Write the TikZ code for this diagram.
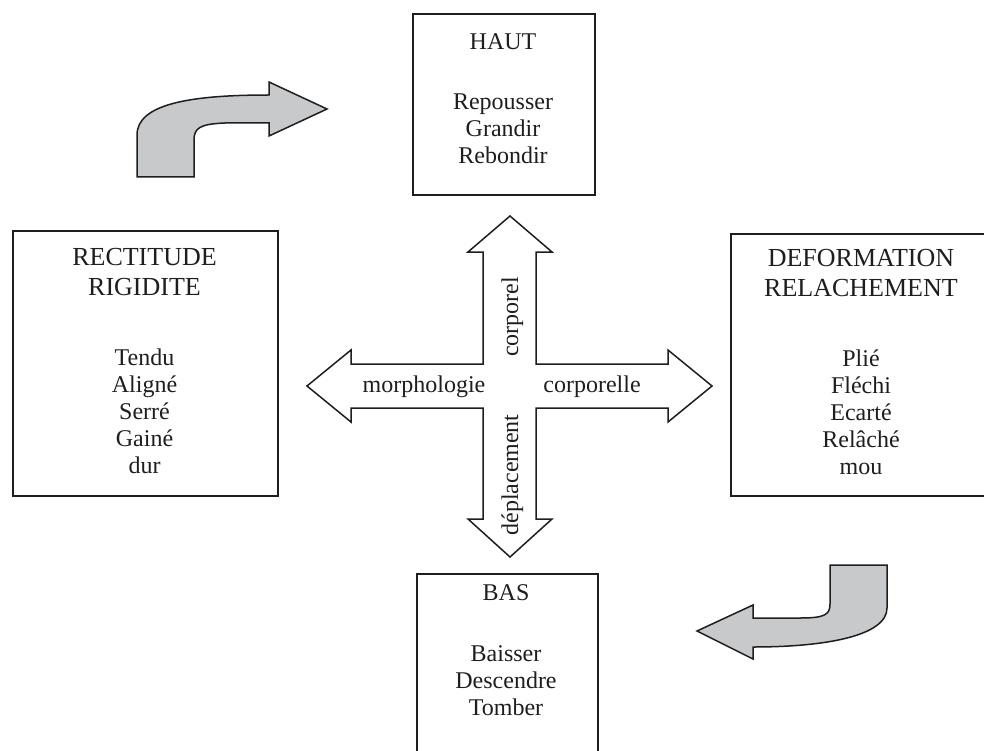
\documentclass[tikz,border=0pt]{standalone}
\usepackage{fontspec}
\setmainfont{Liberation Serif}
\definecolor{ink}{RGB}{30,30,30}
\definecolor{agray}{RGB}{200,201,203}
\begin{document}
\begin{tikzpicture}[x=1pt,y=-1pt,
  box/.style={draw=ink,line width=1.6pt,inner sep=0pt,anchor=north west},
  txt/.style={text=ink,inner sep=0pt,anchor=base,font=\fontsize{24}{27}\selectfont},
  ttl/.style={txt,font=\fontsize{26}{30}\selectfont},
  arrowshape/.style={draw=ink,line width=1.5pt,line join=miter},
  bentarrow/.style={draw=ink,fill=agray,line width=1.5pt,line join=miter},
]
\useasboundingbox (0,0) rectangle (984,751);
\clip (0,0) rectangle (984,751);
\fill[white] (0,0) rectangle (984,751);

% boxes
\node[box,minimum width=182pt,minimum height=181pt] (haut) at (412,13) {};
\node[box,minimum width=265pt,minimum height=265pt] (recti) at (12,230) {};
\node[box,minimum width=262pt,minimum height=262pt] (defo) at (730,233) {};
\node[box,minimum width=181pt,minimum height=190pt] (bas) at (416,573) {};

% HAUT text
\node[txt] (t-haut) at (503,50) {HAUT};
\node[txt] (t-rep) at (503,110) {Repousser};
\node[txt] (t-gra) at (503,137) {Grandir};
\node[txt] (t-reb) at (503,164) {Rebondir};

% left text
\node[ttl] (t-rec) at (144.5,265) {RECTITUDE};
\node[ttl] (t-rig) at (144.5,295) {RIGIDITE};
\node[txt] (t-ten) at (144.5,365) {Tendu};
\node[txt] (t-ali) at (144.5,392) {Aligné};
\node[txt] (t-ser) at (144.5,419) {Serré};
\node[txt] (t-gai) at (144.5,446) {Gainé};
\node[txt] (t-dur) at (144.5,473) {dur};

% right text
\node[ttl] (t-def) at (861,266) {DEFORMATION};
\node[ttl] (t-rel) at (861,296) {RELACHEMENT};
\node[txt] (t-pli) at (861,366) {Plié};
\node[txt] (t-fle) at (861,393) {Fléchi};
\node[txt] (t-eca) at (861,420) {Ecarté};
\node[txt] (t-rlc) at (861,447) {Relâché};
\node[txt] (t-mou) at (861,474) {mou};

% BAS text
\node[txt] (t-bas) at (506,600) {BAS};
\node[txt] (t-bai) at (506,661) {Baisser};
\node[txt] (t-des) at (506,688) {Descendre};
\node[txt] (t-tom) at (506,715) {Tomber};

% cross arrow
\draw[arrowshape] (510,216) -- (552,252) -- (536,252) -- (536,364) -- (668,364) -- (668,350)
  -- (712,386) -- (668,422) -- (668,408) -- (536,408) -- (536,519) -- (552,519)
  -- (510,557) -- (468,519) -- (483,519) -- (483,408) -- (351,408) -- (351,422)
  -- (307,386) -- (351,350) -- (351,364) -- (483,364) -- (483,252) -- (468,252) -- cycle;

\node[txt] (l-morph) at (424,392) {morphologie};
\node[txt] (l-corpe) at (592,392) {corporelle};
\node[txt,rotate=90] (l-corp) at (518,317) {corporel};
\node[txt,rotate=90] (l-depl) at (518,475) {déplacement};

% bent arrow top-left
\draw[bentarrow] (137,177) -- (137,135) .. controls (137,104) and (190,95) .. (269,95)
  -- (269,82) -- (327,109) -- (269,136) -- (269,123)
  -- (225,123) .. controls (200,124) and (194,128) .. (194,140) -- (194,177) -- cycle;

% bent arrow bottom-right
\draw[bentarrow] (830,565) -- (887,565) -- (887,608) .. controls (887,636) and (825,647) .. (753,647)
  -- (753,659) -- (697,631) -- (753,605) -- (753,618)
  -- (800,618) .. controls (824,618) and (830,615) .. (830,604) -- cycle;
\end{tikzpicture}
\end{document}
